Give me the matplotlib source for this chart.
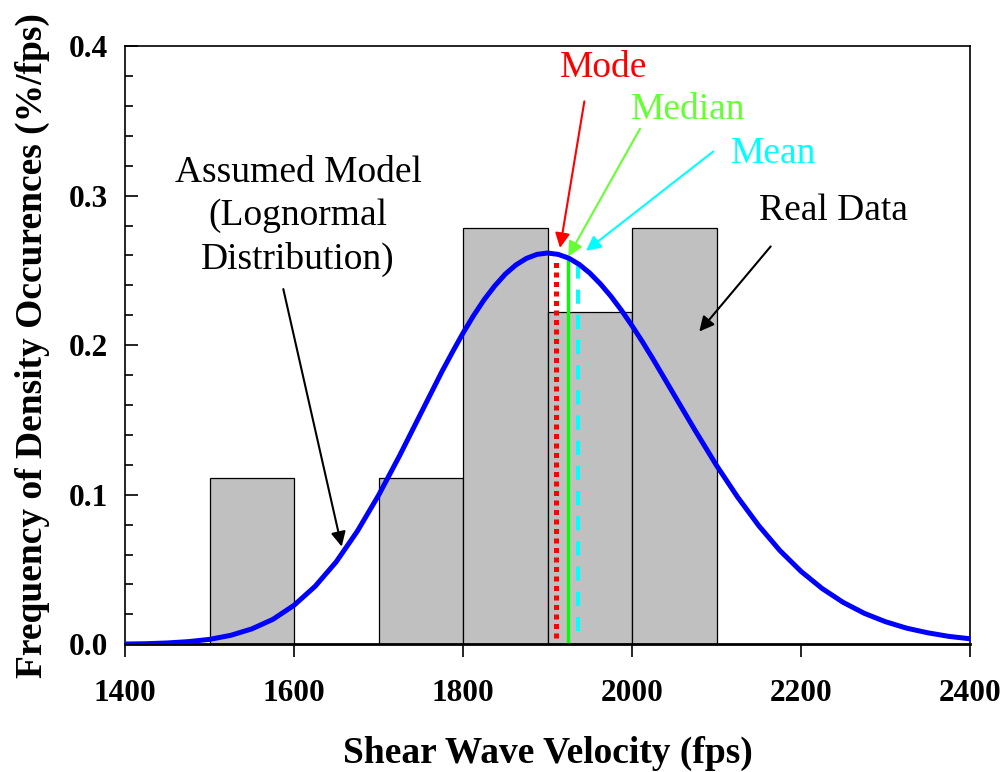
import matplotlib.pyplot as plt

plt.rcParams['font.family'] = ['Liberation Serif', 'DejaVu Serif']

# histogram of measured shear wave velocities (real data)
bin_left = [1500, 1700, 1800, 1900, 2000]
bin_width = [100, 100, 100, 100, 100]
bin_freq = [0.111, 0.111, 0.278, 0.222, 0.278]

# assumed lognormal model (finer steps near the peak)
vel_curve = [1400, 1425, 1450, 1475, 1500, 1525, 1550, 1575, 1600, 1625,
             1650, 1675, 1700, 1725, 1750, 1775, 1787.5, 1800, 1812.5, 1825,
             1837.5, 1850, 1862.5, 1875, 1887.5, 1900, 1912.5, 1925, 1937.5,
             1950, 1962.5, 1975, 1987.5, 2000, 2012.5, 2025, 2050, 2075, 2100,
             2125, 2150, 2175, 2200, 2225, 2250, 2275, 2300, 2325, 2350, 2375,
             2400]
freq_curve = [0.0002, 0.0004, 0.0009, 0.0018, 0.0033, 0.0060, 0.0103, 0.0167,
              0.0261, 0.0388, 0.0552, 0.0757, 0.0996, 0.1262, 0.1543, 0.1823,
              0.1954, 0.2081, 0.2198, 0.2304, 0.2396, 0.2475, 0.2536, 0.2580,
              0.2607, 0.2616, 0.2607, 0.2582, 0.2540, 0.2482, 0.2410, 0.2327,
              0.2233, 0.2130, 0.2021, 0.1906, 0.1666, 0.1427, 0.1196, 0.0984,
              0.0793, 0.0627, 0.0488, 0.0373, 0.0280, 0.0207, 0.0151, 0.0108,
              0.0077, 0.0053, 0.0037]

# central values of the model
mode_v, mode_f = 1910, 0.257
median_v, median_f = 1924, 0.258
mean_v, mean_f = 1936, 0.253

fig = plt.figure(figsize=(10.06, 7.72), dpi=100)
ax = fig.add_axes([0.1243, 0.1654, 0.8399, 0.775])

ax.bar(bin_left, bin_freq, width=bin_width, align='edge',
       color='#c0c0c0', edgecolor='black', linewidth=0.9, zorder=1)
ax.plot(vel_curve, freq_curve, color='#0000ff', lw=3.6, zorder=4,
        solid_joinstyle='round')

ax.plot([mode_v, mode_v], [0.004, mode_f], color='#ff0000', lw=3.6,
        linestyle=(0, (1.0, 0.9)), zorder=3)
ax.plot([median_v, median_v], [0.002, median_f], color='#00ff00', lw=2.4,
        zorder=3)
ax.plot([mean_v, mean_v], [0.009, mean_f], color='#00ffff', lw=2.9,
        linestyle=(0, (3.5, 2.75)), zorder=3)

fs = 27
arrow = dict(arrowstyle='-|>', lw=1.5, mutation_scale=22, shrinkA=0, shrinkB=0)

ax.text(1966, 0.3795, 'Mode', color='#ff0000', fontsize=fs, ha='center',
        va='baseline')
ax.annotate('', xy=(1914.8, 0.265), xytext=(1943.6, 0.363),
            arrowprops=dict(arrow, color='#ff0000'))

ax.text(1999, 0.3512, 'Median', color='#66ff33', fontsize=fs, ha='left',
        va='baseline')
ax.annotate('', xy=(1924.6, 0.2593), xytext=(2009.5, 0.3447),
            arrowprops=dict(arrow, color='#66ff33'))

ax.text(2117, 0.3221, 'Mean', color='#00ffff', fontsize=fs, ha='left',
        va='baseline')
ax.annotate('', xy=(1945.6, 0.2631), xytext=(2096.2, 0.3295),
            arrowprops=dict(arrow, color='#00ffff'))

ax.text(2150, 0.2838, 'Real Data', color='black', fontsize=fs, ha='left',
        va='baseline')
ax.annotate('', xy=(2079.6, 0.2091), xytext=(2164.1, 0.266),
            arrowprops=dict(arrow, color='black'))

# baseline given for the last line
ax.text(1604.7, 0.2508, 'Assumed Model\n(Lognormal\nDistribution)',
        color='black', fontsize=fs, ha='center', va='baseline',
        multialignment='center', linespacing=1.33)
ax.annotate('', xy=(1656.4, 0.0653), xytext=(1587.3, 0.2375),
            arrowprops=dict(arrow, color='black'))

ax.set_xlim(1400, 2400)
ax.set_ylim(0, 0.4)
ax.set_xticks([1400, 1600, 1800, 2000, 2200, 2400])
ax.set_yticks([0.0, 0.1, 0.2, 0.3, 0.4])
ax.set_yticks([i * 0.02 for i in range(21)], minor=True)
ax.set_yticklabels(['0.0', '0.1', '0.2', '0.3', '0.4'])

ax.tick_params(axis='x', direction='out', length=9, width=1.2, pad=16,
               labelsize=22.5)
ax.tick_params(axis='y', which='major', direction='in', length=9, width=1.2,
               pad=12, labelsize=22.5)
ax.tick_params(axis='y', which='minor', direction='in', length=5.5, width=1.2)
for lab in ax.get_xticklabels() + ax.get_yticklabels():
    lab.set_fontweight('bold')

for side in ['left', 'top', 'right']:
    ax.spines[side].set_linewidth(1.2)
ax.spines['bottom'].set_linewidth(2.0)

ax.set_xlabel('Shear Wave Velocity (fps)', fontsize=27, fontweight='bold',
              labelpad=20)
ax.set_ylabel('Frequency of Density Occurences (%/fps)', fontsize=27,
              fontweight='bold', labelpad=14)

fig.savefig('out.png', dpi=100)
